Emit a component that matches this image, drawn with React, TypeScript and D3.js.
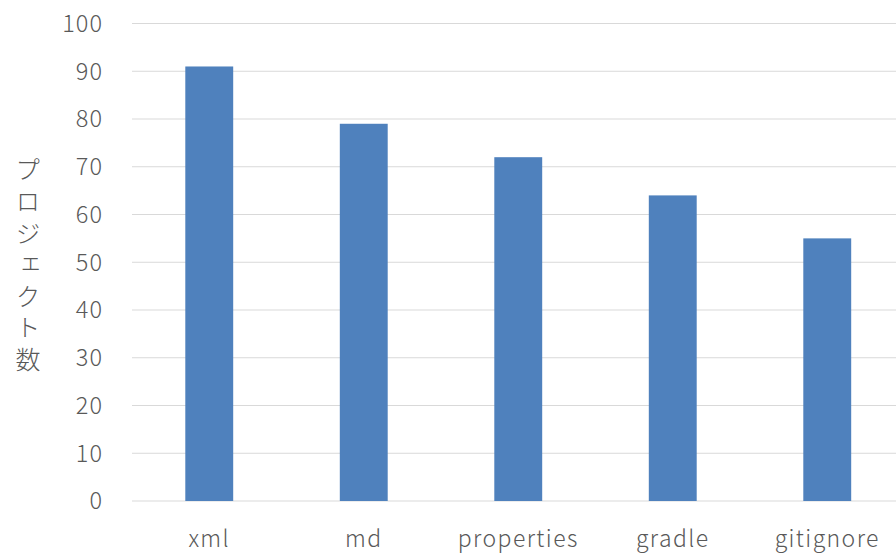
import React from "react";
import * as d3 from "d3";

const categories = ["xml", "md", "properties", "gradle", "gitignore"];
const values = [91, 79, 72, 64, 55];
const yTicks = [0, 10, 20, 30, 40, 50, 60, 70, 80, 90, 100];
const yTitle = "プロジェクト数";

const W = 896;
const H = 556;
const FONT = "'Noto Sans CJK JP', 'Noto Sans', sans-serif";
const TEXT = "#595959";

export default function App() {
  const x = d3
    .scaleBand<string>()
    .domain(categories)
    .range([132, 904.5])
    .paddingInner(0.69)
    .paddingOuter(0.345);
  const y = d3.scaleLinear().domain([0, 100]).range([501, 23.5]);

  return (
    <svg
      width={W}
      height={H}
      style={{ position: "absolute", left: 0, top: 0, background: "#fff" }}
      fontFamily={FONT}
      fontWeight={300}
    >
      <rect width={W} height={H} fill="#fff" />
      {yTicks.map((t) => (
        <g key={t}>
          <line x1={132} x2={W} y1={y(t)} y2={y(t)} stroke="#d9d9d9" strokeWidth={1} />
          <text
            x={103}
            y={y(t)}
            dy="0.36em"
            textAnchor="end"
            fontSize={23.5}
            letterSpacing={1}
            fill={TEXT}
          >
            {t}
          </text>
        </g>
      ))}
      {categories.map((c, i) => (
        <rect
          key={c}
          x={x(c)}
          y={y(values[i])}
          width={x.bandwidth()}
          height={y(0) - y(values[i])}
          fill="#4F81BD"
        />
      ))}
      {categories.map((c) => (
        <text
          key={c}
          x={(x(c) as number) + x.bandwidth() / 2}
          y={547}
          textAnchor="middle"
          fontSize={23}
          letterSpacing={1.4}
          fill={TEXT}
        >
          {c}
        </text>
      ))}
      <text
        x={28}
        y={268}
        textAnchor="middle"
        fontSize={25}
        letterSpacing={6.6}
        fill={TEXT}
        style={{ writingMode: "vertical-rl", textOrientation: "upright" }}
      >
        {yTitle}
      </text>
    </svg>
  );
}
